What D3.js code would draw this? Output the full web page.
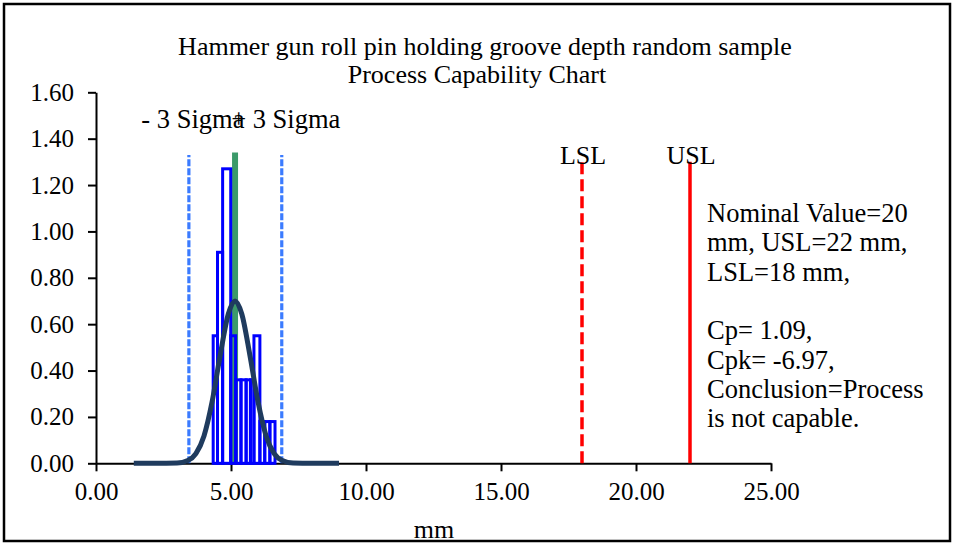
<!DOCTYPE html>
<html>
<head>
<meta charset="utf-8">
<style>
  body { margin: 0; background: #fff; }
  svg text { font-family: "Liberation Serif", "Times New Roman", serif; fill: #000; }
</style>
</head>
<body>
<div id="chart"></div>
<script src="https://cdn.jsdelivr.net/npm/d3@7"></script>
<script>
'use strict';

// --- data ---
var titleLines = ['Hammer gun roll pin holding groove depth random sample', 'Process Capability Chart'];
var xTicks = [0, 5, 10, 15, 20, 25];
var yTicks = [0, 0.2, 0.4, 0.6, 0.8, 1.0, 1.2, 1.4, 1.6];

// histogram bars: left edge, right edge (mm) and density
var barLeft   = [4.34, 4.50, 4.69, 4.99, 5.19, 5.37, 5.56, 5.72, 5.85, 6.07, 6.25, 6.44];
var barRight  = [4.50, 4.69, 4.99, 5.17, 5.37, 5.56, 5.72, 5.85, 6.07, 6.25, 6.44, 6.63];
var barHeight = [0.55, 0.91, 1.27, 0.55, 0.36, 0.36, 0.36, 0.36, 0.55, 0.18, 0.18, 0.18];

// fitted normal curve points
var curveX = [1.4, 2.2, 3.0, 3.4, 3.7, 4.0, 4.3, 4.6, 4.9, 5.15, 5.4, 5.7, 6.0, 6.3, 6.6, 6.9, 7.3, 8.0, 9.0];
var curveY = [0, 0, 0.001, 0.012, 0.042, 0.118, 0.265, 0.466, 0.644, 0.70, 0.644, 0.466, 0.265, 0.118, 0.042, 0.012, 0.001, 0, 0];

var meanValue = 5.15, meanTop = 1.34;
var sigmaValues = [3.44, 6.88], sigmaLabels = ['- 3 Sigma', '+ 3 Sigma'], sigmaTop = 1.33;
var specValues = [18, 22], specLabels = ['LSL', 'USL'], specTop = 1.30;

var noteLines = ['Nominal Value=20', 'mm, USL=22 mm,', 'LSL=18 mm,', '', 'Cp= 1.09,', 'Cpk= -6.97,', 'Conclusion=Process', 'is not capable.'];

// --- drawing ---
var W = 958, H = 547;
var svg = d3.select('#chart').append('svg').attr('width', W).attr('height', H);

svg.append('rect').attr('x', 4).attr('y', 4).attr('width', 946).attr('height', 537)
  .attr('fill', '#fff').attr('stroke', '#000').attr('stroke-width', 2.5);

var x = d3.scaleLinear().domain([0, 25]).range([96, 771]);
var y = d3.scaleLinear().domain([0, 1.6]).range([463.3, 92.3]);

var title = svg.append('g').attr('font-size', 26).attr('text-anchor', 'middle');
title.append('text').attr('x', 485).attr('y', 55).text(titleLines[0]);
title.append('text').attr('x', 477).attr('y', 83).text(titleLines[1]);

var xAxis = svg.append('g').attr('transform', 'translate(0,' + y(0) + ')')
  .call(d3.axisBottom(x).tickValues(xTicks).tickFormat(d3.format('.2f')).tickSize(8).tickSizeOuter(0).tickPadding(11));
var yAxis = svg.append('g').attr('transform', 'translate(' + x(0) + ',0)')
  .call(d3.axisLeft(y).tickValues(yTicks).tickFormat(d3.format('.2f')).tickSize(8).tickSizeOuter(0).tickPadding(14));
[xAxis, yAxis].forEach(function(a) {
  a.select('.domain').attr('stroke', '#000').attr('stroke-width', 2);
  a.selectAll('.tick line').attr('stroke', '#000').attr('stroke-width', 2);
  a.selectAll('.tick text').attr('font-size', 25).attr('font-family', '"Liberation Serif", serif').attr('fill', '#000');
});

svg.append('text').attr('x', 434).attr('y', 538).attr('text-anchor', 'middle').attr('font-size', 26).text('mm');

// mean line
svg.append('line').attr('x1', x(meanValue)).attr('x2', x(meanValue)).attr('y1', y(0)).attr('y2', y(meanTop))
  .attr('stroke', '#3c9a6a').attr('stroke-width', 6);

// +/- 3 sigma lines
svg.selectAll('.sigma').data(sigmaValues).enter().append('line').attr('class', 'sigma')
  .attr('x1', function(d) { return x(d); }).attr('x2', function(d) { return x(d); })
  .attr('y1', y(0)).attr('y2', y(sigmaTop))
  .attr('stroke', '#3b7bff').attr('stroke-width', 3.2).attr('stroke-dasharray', '7,2');

// histogram
var bars = barLeft.map(function(l, i) { return { l: l, r: barRight[i], h: barHeight[i] }; });
svg.selectAll('.bar').data(bars).enter().append('rect').attr('class', 'bar')
  .attr('x', function(d) { return x(d.l); })
  .attr('width', function(d) { return x(d.r) - x(d.l); })
  .attr('y', function(d) { return y(d.h); })
  .attr('height', function(d) { return y(0) - y(d.h); })
  .attr('fill', 'none').attr('stroke', '#0000ff').attr('stroke-width', 3);

// normal curve
var pts = curveX.map(function(v, i) { return [v, curveY[i]]; });
svg.append('path').datum(pts)
  .attr('d', d3.line().x(function(d) { return x(d[0]); }).y(function(d) { return y(d[1]); }).curve(d3.curveMonotoneX))
  .attr('fill', 'none').attr('stroke', '#1f3b5e').attr('stroke-width', 5);

// spec limits
svg.selectAll('.spec').data(specValues).enter().append('line').attr('class', 'spec')
  .attr('x1', function(d) { return x(d); }).attr('x2', function(d) { return x(d); })
  .attr('y1', y(0)).attr('y2', y(specTop))
  .attr('stroke', '#ff0000').attr('stroke-width', 3.5)
  .attr('stroke-dasharray', function(d, i) { return i === 0 ? '12,5' : null; });

svg.selectAll('.specLabel').data(specValues).enter().append('text').attr('class', 'specLabel')
  .attr('x', function(d) { return x(d) + 1; }).attr('y', 164)
  .attr('text-anchor', 'middle').attr('font-size', 26)
  .text(function(d, i) { return specLabels[i]; });

svg.selectAll('.sigmaLabel').data(sigmaValues).enter().append('text').attr('class', 'sigmaLabel')
  .attr('x', function(d) { return x(d) + 4; }).attr('y', 128)
  .attr('text-anchor', 'middle').attr('font-size', 26.5)
  .text(function(d, i) { return sigmaLabels[i]; });

// note box
var note = svg.append('text').attr('font-size', 26.5);
noteLines.forEach(function(t, i) {
  note.append('tspan').attr('x', 707).attr('y', 222 + i * 29.3).text(t);
});
</script>
</body>
</html>
